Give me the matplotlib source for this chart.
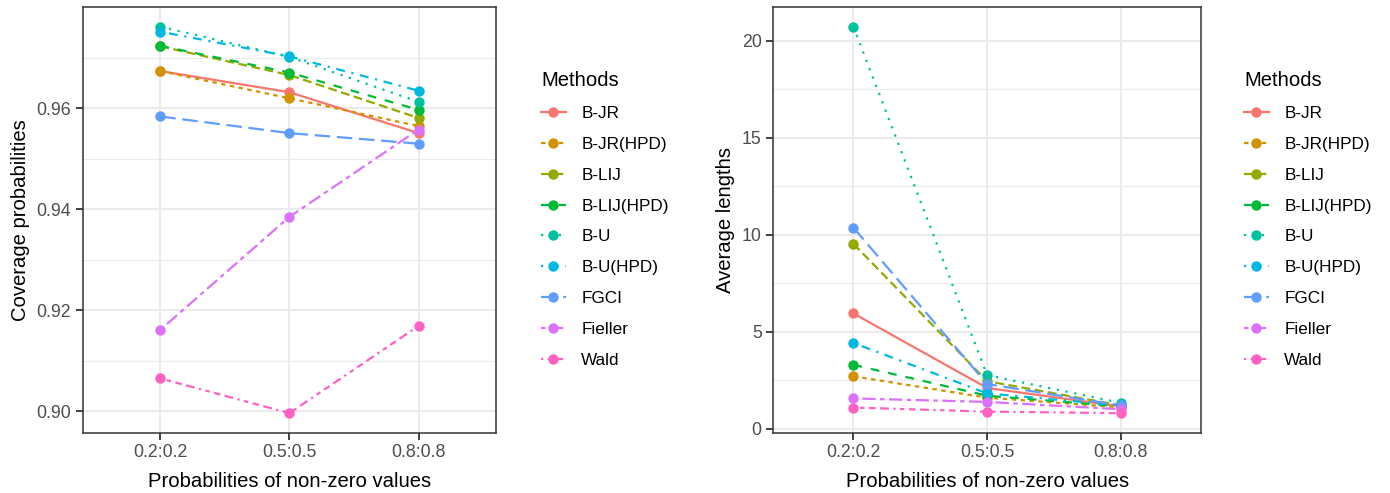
import matplotlib
matplotlib.use("Agg")
import matplotlib.pyplot as plt
from matplotlib.lines import Line2D
from matplotlib.ticker import FixedLocator

plt.rcParams['font.family'] = ['Liberation Sans', 'DejaVu Sans']

categories = ["0.2:0.2", "0.5:0.5", "0.8:0.8"]
methods = ["B-JR", "B-JR(HPD)", "B-LIJ", "B-LIJ(HPD)", "B-U", "B-U(HPD)",
           "FGCI", "Fieller", "Wald"]
colors = ["#F8766D", "#D39200", "#93AA00", "#00BA38", "#00C19F", "#00B9E3",
          "#619CFF", "#DB72FB", "#FF61C3"]
dash_patterns = [None, (2, 2), (4, 2), (4, 4), (1, 3), (1, 3, 4, 3), (7, 3),
                 (2, 2, 6, 2), (1, 2, 2, 2, 3, 2, 4, 2)]

cov_ticks = [0.90, 0.92, 0.94, 0.96]
len_ticks = [0, 5, 10, 15, 20]

cov_bjr = [0.9674, 0.9632, 0.9551]
cov_bjr_hpd = [0.9674, 0.9620, 0.9565]
cov_blij = [0.9723, 0.9666, 0.9581]
cov_blij_hpd = [0.9724, 0.9671, 0.9597]
cov_bu = [0.9762, 0.9702, 0.9613]
cov_bu_hpd = [0.9752, 0.9703, 0.9635]
cov_fgci = [0.9584, 0.9551, 0.9530]
cov_fieller = [0.9161, 0.9385, 0.9558]
cov_wald = [0.9065, 0.8996, 0.9169]

len_bjr = [5.94, 2.10, 1.15]
len_bjr_hpd = [2.70, 1.60, 1.10]
len_blij = [9.53, 2.45, 1.20]
len_blij_hpd = [3.29, 1.70, 1.15]
len_bu = [20.72, 2.76, 1.33]
len_bu_hpd = [4.42, 1.82, 1.20]
len_fgci = [10.36, 2.30, 1.20]
len_fieller = [1.56, 1.38, 1.00]
len_wald = [1.09, 0.88, 0.80]

coverage = [cov_bjr, cov_bjr_hpd, cov_blij, cov_blij_hpd, cov_bu, cov_bu_hpd,
            cov_fgci, cov_fieller, cov_wald]
lengths = [len_bjr, len_bjr_hpd, len_blij, len_blij_hpd, len_bu, len_bu_hpd,
           len_fgci, len_fieller, len_wald]

W, H = 1390, 493
fig = plt.figure(figsize=(W / 100, H / 100), dpi=100)

LW = 1.6
MS = 7.5
GRID = "#EBEBEB"
DARK = "#333333"


def ls_for(p):
    return '-' if p is None else (0, p)


def make_panel(rect, data, ylabel, ticks, legend_x, fmt):
    ax = fig.add_axes(rect)
    x = list(range(1, len(categories) + 1))
    for vals, c, p in zip(data, colors, dash_patterns):
        ax.plot(x, vals, color=c, lw=LW, linestyle=ls_for(p), zorder=3,
                solid_capstyle='butt', dash_capstyle='butt')
    for vals, c in zip(data, colors):
        ax.plot(x, vals, linestyle='none', marker='o', ms=MS, color=c,
                mec='none', zorder=4)
    allv = [v for s in data for v in s]
    lo, hi = min(allv), max(allv)
    pad = 0.05 * (hi - lo)
    ax.set_ylim(lo - pad, hi + pad)
    ax.set_xlim(0.4, len(categories) + 0.6)
    ax.set_xticks(x)
    ax.set_xticklabels(categories)
    ax.set_yticks(ticks)
    ax.set_yticklabels([fmt(t) for t in ticks])
    step = ticks[1] - ticks[0]
    minors = [t + step / 2 for t in [ticks[0] - step] + ticks]
    ax.yaxis.set_minor_locator(FixedLocator(minors))
    ax.tick_params(which='minor', length=0)
    ax.grid(which='major', axis='both', color=GRID, lw=1.5, zorder=0)
    ax.grid(which='minor', axis='y', color=GRID, lw=0.8, zorder=0)
    ax.set_axisbelow(True)
    ax.tick_params(which='major', length=4.8, width=1.3, color=DARK,
                   labelsize=12.8, labelcolor="#4D4D4D", pad=3.5)
    for s in ax.spines.values():
        s.set_color(DARK)
        s.set_linewidth(1.1)
    ax.set_xlabel("Probabilities of non-zero values", fontsize=14.6,
                  labelpad=8)
    ax.set_ylabel(ylabel, fontsize=14.6, labelpad=5)

    handles = [Line2D([], [], color=c, lw=LW, linestyle=ls_for(p), marker='o',
                      ms=MS, mec='none')
               for c, p in zip(colors, dash_patterns)]
    fig.legend(handles, methods, title="Methods", loc='upper left',
               bbox_to_anchor=(legend_x / W, 1 - 71 / H),
               frameon=False, fontsize=12.3, title_fontsize=14.6,
               handlelength=1.45, handletextpad=0.9, labelspacing=0.93,
               borderpad=0, borderaxespad=0, alignment='left')
    return ax


ax1 = make_panel([82.8 / W, 60.5 / H, 413.2 / W, 425.2 / H], coverage,
                 "Coverage probabilities", cov_ticks, 541,
                 lambda v: f"{v:.2f}")
ax2 = make_panel([773.2 / W, 60.5 / H, 427.8 / W, 425.2 / H], lengths,
                 "Average lengths", len_ticks, 1244, lambda v: f"{v:g}")

fig.savefig("out.png", dpi=100)
